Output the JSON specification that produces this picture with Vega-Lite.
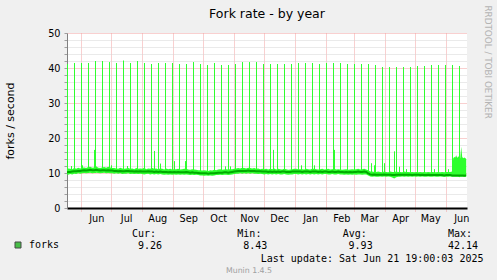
{
  "$schema": "https://vega.github.io/schema/vega-lite/v6.json",
  "width": 400,
  "height": 175,
  "autosize": {"type": "none"},
  "padding": {"left": 67, "top": 33, "right": 30, "bottom": 72},
  "background": "#F0F0F0",
  "config": {"view": {"stroke": null, "fill": "#FFFFFF"}, "font": "DejaVu Sans"},
  "title": {"text": "Fork rate - by year", "font": "DejaVu Sans", "fontSize": 12.5, "fontWeight": "normal", "color": "#000000", "anchor": "middle", "frame": "group", "baseline": "alphabetic", "offset": -25.5},
  "datasets": {
    "band": [
      {"d":"2024-05-17","l":9.6,"a":10.2,"h":11.0},{"d":"2024-05-19","l":9.5,"a":10.3,"h":11.3},{"d":"2024-05-21","l":9.7,"a":10.3,"h":11.2},{"d":"2024-05-23","l":9.6,"a":10.4,"h":11.1},{"d":"2024-05-25","l":9.8,"a":10.5,"h":11.4},{"d":"2024-05-27","l":9.7,"a":10.5,"h":11.2},{"d":"2024-05-29","l":9.9,"a":10.6,"h":11.5},{"d":"2024-05-31","l":9.8,"a":10.6,"h":11.3},
      {"d":"2024-06-02","l":9.9,"a":10.7,"h":11.5},{"d":"2024-06-04","l":10.0,"a":10.8,"h":11.6},{"d":"2024-06-06","l":9.9,"a":10.7,"h":11.4},{"d":"2024-06-08","l":10.0,"a":10.8,"h":11.7},{"d":"2024-06-10","l":10.1,"a":10.9,"h":11.8},{"d":"2024-06-12","l":9.9,"a":10.8,"h":11.5},{"d":"2024-06-14","l":10.0,"a":10.8,"h":11.6},{"d":"2024-06-16","l":10.1,"a":10.9,"h":11.9},{"d":"2024-06-18","l":10.0,"a":10.8,"h":11.5},{"d":"2024-06-20","l":9.9,"a":10.7,"h":11.4},{"d":"2024-06-22","l":10.0,"a":10.8,"h":11.6},{"d":"2024-06-24","l":10.1,"a":10.8,"h":11.7},{"d":"2024-06-26","l":9.9,"a":10.7,"h":11.5},{"d":"2024-06-28","l":10.0,"a":10.8,"h":11.8},{"d":"2024-06-30","l":9.9,"a":10.7,"h":11.6},
      {"d":"2024-07-02","l":9.9,"a":10.7,"h":11.4},{"d":"2024-07-04","l":9.8,"a":10.6,"h":11.4},{"d":"2024-07-06","l":9.9,"a":10.6,"h":11.3},{"d":"2024-07-08","l":9.8,"a":10.5,"h":11.2},{"d":"2024-07-10","l":9.9,"a":10.6,"h":11.5},{"d":"2024-07-12","l":9.7,"a":10.5,"h":11.3},{"d":"2024-07-14","l":9.8,"a":10.5,"h":11.2},{"d":"2024-07-16","l":9.8,"a":10.6,"h":11.3},{"d":"2024-07-18","l":9.9,"a":10.6,"h":11.4},{"d":"2024-07-20","l":9.7,"a":10.5,"h":11.2},{"d":"2024-07-22","l":9.8,"a":10.5,"h":11.3},{"d":"2024-07-24","l":9.7,"a":10.4,"h":11.1},{"d":"2024-07-26","l":9.8,"a":10.5,"h":11.4},{"d":"2024-07-28","l":9.7,"a":10.4,"h":11.2},{"d":"2024-07-30","l":9.8,"a":10.5,"h":11.3},
      {"d":"2024-08-01","l":9.7,"a":10.4,"h":11.2},{"d":"2024-08-03","l":9.6,"a":10.4,"h":11.5},{"d":"2024-08-05","l":9.7,"a":10.4,"h":11.1},{"d":"2024-08-07","l":9.8,"a":10.5,"h":11.3},{"d":"2024-08-09","l":9.6,"a":10.4,"h":11.2},{"d":"2024-08-11","l":9.7,"a":10.4,"h":11.4},{"d":"2024-08-13","l":9.6,"a":10.3,"h":11.2},{"d":"2024-08-15","l":9.7,"a":10.4,"h":11.3},{"d":"2024-08-17","l":9.6,"a":10.3,"h":11.1},{"d":"2024-08-19","l":9.7,"a":10.4,"h":11.3},{"d":"2024-08-21","l":9.6,"a":10.3,"h":11.2},{"d":"2024-08-23","l":9.5,"a":10.3,"h":11.0},{"d":"2024-08-25","l":9.6,"a":10.3,"h":11.3},{"d":"2024-08-27","l":9.5,"a":10.2,"h":11.1},{"d":"2024-08-29","l":9.6,"a":10.3,"h":11.2},{"d":"2024-08-31","l":9.5,"a":10.2,"h":11.0},
      {"d":"2024-09-02","l":9.6,"a":10.3,"h":11.1},{"d":"2024-09-04","l":9.5,"a":10.2,"h":11.1},{"d":"2024-09-06","l":9.6,"a":10.3,"h":11.2},{"d":"2024-09-08","l":9.5,"a":10.2,"h":11.0},{"d":"2024-09-10","l":9.6,"a":10.2,"h":11.1},{"d":"2024-09-12","l":9.5,"a":10.2,"h":11.2},{"d":"2024-09-14","l":9.6,"a":10.3,"h":11.2},{"d":"2024-09-16","l":9.5,"a":10.2,"h":11.0},{"d":"2024-09-18","l":9.4,"a":10.1,"h":10.9},{"d":"2024-09-20","l":9.5,"a":10.2,"h":11.1},{"d":"2024-09-22","l":9.4,"a":10.1,"h":11.0},{"d":"2024-09-24","l":9.5,"a":10.1,"h":10.9},{"d":"2024-09-26","l":9.4,"a":10.0,"h":10.8},{"d":"2024-09-28","l":9.3,"a":9.9,"h":10.8},{"d":"2024-09-30","l":9.3,"a":9.9,"h":10.7},
      {"d":"2024-10-02","l":9.2,"a":9.9,"h":10.8},{"d":"2024-10-04","l":9.3,"a":9.9,"h":10.7},{"d":"2024-10-06","l":9.2,"a":9.8,"h":10.6},{"d":"2024-10-08","l":9.3,"a":9.9,"h":10.8},{"d":"2024-10-10","l":9.2,"a":9.9,"h":10.7},{"d":"2024-10-12","l":9.3,"a":9.9,"h":10.9},{"d":"2024-10-14","l":9.4,"a":10.0,"h":10.8},{"d":"2024-10-16","l":9.4,"a":10.1,"h":11.0},{"d":"2024-10-18","l":9.5,"a":10.1,"h":11.1},{"d":"2024-10-20","l":9.4,"a":10.1,"h":10.9},{"d":"2024-10-22","l":9.5,"a":10.2,"h":11.0},{"d":"2024-10-24","l":9.5,"a":10.2,"h":11.1},{"d":"2024-10-26","l":9.4,"a":10.1,"h":11.0},{"d":"2024-10-28","l":9.5,"a":10.2,"h":11.1},{"d":"2024-10-30","l":9.6,"a":10.3,"h":11.1},
      {"d":"2024-11-01","l":9.7,"a":10.4,"h":11.2},{"d":"2024-11-03","l":9.8,"a":10.5,"h":11.3},{"d":"2024-11-05","l":9.8,"a":10.6,"h":11.4},{"d":"2024-11-07","l":9.9,"a":10.6,"h":11.3},{"d":"2024-11-09","l":9.8,"a":10.6,"h":11.5},{"d":"2024-11-11","l":9.9,"a":10.6,"h":11.4},{"d":"2024-11-13","l":9.8,"a":10.6,"h":11.3},{"d":"2024-11-15","l":9.9,"a":10.7,"h":11.5},{"d":"2024-11-17","l":9.8,"a":10.6,"h":11.4},{"d":"2024-11-19","l":9.9,"a":10.6,"h":11.3},{"d":"2024-11-21","l":9.8,"a":10.6,"h":11.4},{"d":"2024-11-23","l":9.8,"a":10.5,"h":11.2},{"d":"2024-11-25","l":9.7,"a":10.5,"h":11.3},{"d":"2024-11-27","l":9.8,"a":10.5,"h":11.1},{"d":"2024-11-29","l":9.7,"a":10.4,"h":11.2},
      {"d":"2024-12-01","l":9.6,"a":10.4,"h":11.1},{"d":"2024-12-03","l":9.7,"a":10.4,"h":11.2},{"d":"2024-12-05","l":9.6,"a":10.3,"h":11.0},{"d":"2024-12-07","l":9.7,"a":10.4,"h":11.2},{"d":"2024-12-09","l":9.6,"a":10.3,"h":11.1},{"d":"2024-12-11","l":9.7,"a":10.4,"h":11.3},{"d":"2024-12-13","l":9.6,"a":10.3,"h":11.0},{"d":"2024-12-15","l":9.7,"a":10.4,"h":11.2},{"d":"2024-12-17","l":9.6,"a":10.3,"h":11.1},{"d":"2024-12-19","l":9.6,"a":10.4,"h":11.0},{"d":"2024-12-21","l":9.7,"a":10.4,"h":11.2},{"d":"2024-12-23","l":9.6,"a":10.3,"h":11.1},{"d":"2024-12-25","l":9.5,"a":10.3,"h":10.9},{"d":"2024-12-27","l":9.6,"a":10.3,"h":11.0},{"d":"2024-12-29","l":9.6,"a":10.4,"h":11.1},{"d":"2024-12-31","l":9.7,"a":10.4,"h":11.2},
      {"d":"2025-01-02","l":9.7,"a":10.4,"h":11.2},{"d":"2025-01-04","l":9.6,"a":10.4,"h":11.1},{"d":"2025-01-06","l":9.7,"a":10.4,"h":11.1},{"d":"2025-01-08","l":9.6,"a":10.3,"h":11.1},{"d":"2025-01-10","l":9.7,"a":10.4,"h":11.0},{"d":"2025-01-12","l":9.6,"a":10.4,"h":11.2},{"d":"2025-01-14","l":9.7,"a":10.4,"h":11.1},{"d":"2025-01-16","l":9.6,"a":10.3,"h":11.0},{"d":"2025-01-18","l":9.7,"a":10.4,"h":11.2},{"d":"2025-01-20","l":9.6,"a":10.4,"h":11.2},{"d":"2025-01-22","l":9.7,"a":10.4,"h":11.1},{"d":"2025-01-24","l":9.6,"a":10.3,"h":11.0},{"d":"2025-01-26","l":9.7,"a":10.4,"h":11.1},{"d":"2025-01-28","l":9.6,"a":10.3,"h":11.2},{"d":"2025-01-30","l":9.7,"a":10.4,"h":11.0},
      {"d":"2025-02-01","l":9.7,"a":10.4,"h":11.1},{"d":"2025-02-03","l":9.6,"a":10.3,"h":11.2},{"d":"2025-02-05","l":9.6,"a":10.3,"h":11.0},{"d":"2025-02-07","l":9.7,"a":10.4,"h":11.1},{"d":"2025-02-09","l":9.6,"a":10.3,"h":11.2},{"d":"2025-02-11","l":9.6,"a":10.3,"h":11.0},{"d":"2025-02-13","l":9.7,"a":10.4,"h":11.1},{"d":"2025-02-15","l":9.6,"a":10.3,"h":11.0},{"d":"2025-02-17","l":9.6,"a":10.3,"h":10.9},{"d":"2025-02-19","l":9.5,"a":10.2,"h":11.0},{"d":"2025-02-21","l":9.6,"a":10.3,"h":11.1},{"d":"2025-02-23","l":9.5,"a":10.2,"h":10.9},{"d":"2025-02-25","l":9.6,"a":10.3,"h":11.0},{"d":"2025-02-27","l":9.5,"a":10.2,"h":11.1},
      {"d":"2025-03-01","l":9.6,"a":10.3,"h":11.0},{"d":"2025-03-03","l":9.5,"a":10.3,"h":11.1},{"d":"2025-03-05","l":9.6,"a":10.4,"h":11.2},{"d":"2025-03-07","l":9.6,"a":10.3,"h":11.0},{"d":"2025-03-09","l":9.5,"a":10.3,"h":11.1},{"d":"2025-03-11","l":9.6,"a":10.4,"h":11.2},{"d":"2025-03-13","l":9.6,"a":10.3,"h":11.0},{"d":"2025-03-15","l":9.3,"a":9.9,"h":10.8},{"d":"2025-03-17","l":9.0,"a":9.6,"h":10.4},{"d":"2025-03-19","l":8.9,"a":9.5,"h":10.4},{"d":"2025-03-21","l":9.0,"a":9.6,"h":10.3},{"d":"2025-03-23","l":8.9,"a":9.5,"h":10.3},{"d":"2025-03-25","l":8.9,"a":9.5,"h":10.4},{"d":"2025-03-27","l":9.0,"a":9.5,"h":10.3},{"d":"2025-03-29","l":8.9,"a":9.5,"h":10.2},{"d":"2025-03-31","l":9.0,"a":9.6,"h":10.4},
      {"d":"2025-04-02","l":8.9,"a":9.5,"h":10.3},{"d":"2025-04-04","l":9.0,"a":9.5,"h":10.2},{"d":"2025-04-06","l":8.9,"a":9.5,"h":10.4},{"d":"2025-04-08","l":8.7,"a":9.4,"h":10.3},{"d":"2025-04-10","l":8.43,"a":9.4,"h":10.3},{"d":"2025-04-12","l":8.8,"a":9.5,"h":10.4},{"d":"2025-04-14","l":8.9,"a":9.5,"h":10.3},{"d":"2025-04-16","l":8.9,"a":9.5,"h":10.3},{"d":"2025-04-18","l":9.0,"a":9.5,"h":10.2},{"d":"2025-04-20","l":8.9,"a":9.5,"h":10.4},{"d":"2025-04-22","l":9.0,"a":9.5,"h":10.3},{"d":"2025-04-24","l":8.9,"a":9.5,"h":10.3},{"d":"2025-04-26","l":9.0,"a":9.5,"h":10.2},{"d":"2025-04-28","l":8.9,"a":9.4,"h":10.3},{"d":"2025-04-30","l":9.0,"a":9.5,"h":10.2},
      {"d":"2025-05-02","l":8.9,"a":9.5,"h":10.3},{"d":"2025-05-04","l":9.0,"a":9.5,"h":10.2},{"d":"2025-05-06","l":8.9,"a":9.4,"h":10.3},{"d":"2025-05-08","l":9.0,"a":9.5,"h":10.2},{"d":"2025-05-10","l":8.9,"a":9.4,"h":10.3},{"d":"2025-05-12","l":8.9,"a":9.4,"h":10.2},{"d":"2025-05-14","l":9.0,"a":9.5,"h":10.3},{"d":"2025-05-16","l":8.9,"a":9.4,"h":10.2},{"d":"2025-05-18","l":8.9,"a":9.4,"h":10.3},{"d":"2025-05-20","l":9.0,"a":9.4,"h":10.2},{"d":"2025-05-22","l":8.9,"a":9.4,"h":10.2},{"d":"2025-05-24","l":8.9,"a":9.4,"h":10.3},{"d":"2025-05-26","l":9.0,"a":9.4,"h":10.2},{"d":"2025-05-28","l":8.9,"a":9.4,"h":10.3},{"d":"2025-05-30","l":8.9,"a":9.3,"h":10.2},
      {"d":"2025-06-01","l":8.9,"a":9.4,"h":10.3},{"d":"2025-06-03","l":8.9,"a":9.4,"h":10.3},{"d":"2025-06-05","l":9.0,"a":9.4,"h":10.3},{"d":"2025-06-07","l":8.9,"a":9.3,"h":10.4},{"d":"2025-06-08","l":8.9,"a":9.3,"h":14.2},{"d":"2025-06-09","l":8.9,"a":9.3,"h":14.6},{"d":"2025-06-10","l":8.9,"a":9.3,"h":14.4},{"d":"2025-06-11","l":8.9,"a":9.3,"h":15.1},{"d":"2025-06-12","l":8.9,"a":9.3,"h":14.3},{"d":"2025-06-13","l":8.9,"a":9.3,"h":14.8},{"d":"2025-06-14","l":8.8,"a":9.3,"h":14.5},{"d":"2025-06-15","l":8.9,"a":9.3,"h":14.2},{"d":"2025-06-16","l":8.9,"a":9.3,"h":17.5},{"d":"2025-06-17","l":8.9,"a":9.3,"h":14.6},{"d":"2025-06-18","l":8.9,"a":9.3,"h":14.2},{"d":"2025-06-19","l":8.9,"a":9.2,"h":14.4},{"d":"2025-06-20","l":8.9,"a":9.3,"h":14.3},{"d":"2025-06-21","l":8.9,"a":9.26,"h":14.0}
    ],
    "spikes": [
      {"d":"2024-05-18T07:00","v":41.14},{"d":"2024-05-25T07:00","v":41.43},{"d":"2024-06-01T07:00","v":41.43},{"d":"2024-06-08T07:00","v":41.43},{"d":"2024-06-15T07:00","v":42.0},{"d":"2024-06-22T07:00","v":42.0},{"d":"2024-06-29T07:00","v":41.7},{"d":"2024-07-06T07:00","v":41.43},{"d":"2024-07-13T07:00","v":42.14},{"d":"2024-07-20T07:00","v":41.43},{"d":"2024-07-27T07:00","v":42.0},{"d":"2024-08-03T07:00","v":41.43},{"d":"2024-08-10T07:00","v":41.14},{"d":"2024-08-17T07:00","v":41.43},{"d":"2024-08-24T07:00","v":41.43},{"d":"2024-08-31T07:00","v":41.43},{"d":"2024-09-07T07:00","v":41.14},{"d":"2024-09-14T07:00","v":41.14},{"d":"2024-09-21T07:00","v":41.7},{"d":"2024-09-28T07:00","v":41.14},{"d":"2024-10-05T07:00","v":40.86},{"d":"2024-10-12T07:00","v":41.43},{"d":"2024-10-19T07:00","v":40.86},{"d":"2024-10-26T07:00","v":40.86},{"d":"2024-11-02T07:00","v":41.14},{"d":"2024-11-09T07:00","v":41.7},{"d":"2024-11-16T07:00","v":41.7},{"d":"2024-11-23T07:00","v":41.7},{"d":"2024-11-30T07:00","v":41.14},{"d":"2024-12-07T07:00","v":41.14},{"d":"2024-12-14T07:00","v":41.14},{"d":"2024-12-21T07:00","v":41.14},{"d":"2024-12-28T07:00","v":41.14},{"d":"2025-01-04T07:00","v":41.43},{"d":"2025-01-11T07:00","v":41.43},{"d":"2025-01-18T07:00","v":41.43},{"d":"2025-01-25T07:00","v":41.14},{"d":"2025-02-01T07:00","v":41.43},{"d":"2025-02-08T07:00","v":41.43},{"d":"2025-02-15T07:00","v":41.43},{"d":"2025-02-22T07:00","v":41.14},{"d":"2025-03-01T07:00","v":41.14},{"d":"2025-03-08T07:00","v":41.14},{"d":"2025-03-15T07:00","v":41.14},{"d":"2025-03-22T07:00","v":40.86},{"d":"2025-03-29T07:00","v":40.29},{"d":"2025-04-05T07:00","v":40.29},{"d":"2025-04-12T07:00","v":40.29},{"d":"2025-04-19T07:00","v":40.29},{"d":"2025-04-26T07:00","v":40.29},{"d":"2025-05-03T07:00","v":40.57},{"d":"2025-05-10T07:00","v":40.57},{"d":"2025-05-17T07:00","v":40.86},{"d":"2025-05-24T07:00","v":40.86},{"d":"2025-05-31T07:00","v":40.86},{"d":"2025-06-07T07:00","v":40.86},{"d":"2025-06-14T07:00","v":40.57},
      {"d":"2024-05-22T07:00","v":12.0},{"d":"2024-06-02T07:00","v":12.2},{"d":"2024-06-14T07:00","v":16.6},{"d":"2024-07-01T07:00","v":12.2},{"d":"2024-07-17T07:00","v":12.0},{"d":"2024-08-13T07:00","v":16.3},{"d":"2024-08-19T07:00","v":12.7},{"d":"2024-09-02T07:00","v":13.4},{"d":"2024-09-13T07:00","v":13.4},{"d":"2024-10-23T07:00","v":11.9},{"d":"2024-10-28T07:00","v":11.9},{"d":"2024-12-10T07:00","v":16.6},{"d":"2025-01-07T07:00","v":12.2},{"d":"2025-01-20T07:00","v":12.2},{"d":"2025-02-09T07:00","v":16.6},{"d":"2025-03-18T07:00","v":12.8},{"d":"2025-03-21T07:00","v":12.2},{"d":"2025-03-31T07:00","v":12.8},{"d":"2025-04-10T07:00","v":16.2},{"d":"2025-04-15T07:00","v":11.8},{"d":"2025-04-22T07:00","v":11.1},{"d":"2025-05-20T07:00","v":11.1},{"d":"2025-06-03T07:00","v":11.1}
    ],
    "stats": [
      {"stat":"Cur:","val":"9.26"},{"stat":"Min:","val":"8.43"},{"stat":"Avg:","val":"9.93"},{"stat":"Max:","val":"42.14"}
    ]
  },
  "layer": [
    {
      "layer": [
        {
          "data": {"name": "band"},
          "mark": {"type": "area", "color": "#2EFF2E", "clip": true, "interpolate": "linear"},
          "encoding": {
            "x": {"field": "d", "type": "temporal",
              "scale": {"domain": [{"year": 2024, "month": 5, "date": 17, "hours": 19}, {"year": 2025, "month": 6, "date": 21, "hours": 19}]},
              "axis": {
                "values": [{"year":2024,"month":6,"date":1},{"year":2024,"month":7,"date":1},{"year":2024,"month":8,"date":1},{"year":2024,"month":9,"date":1},{"year":2024,"month":10,"date":1},{"year":2024,"month":11,"date":1},{"year":2024,"month":12,"date":1},{"year":2025,"month":1,"date":1},{"year":2025,"month":2,"date":1},{"year":2025,"month":3,"date":1},{"year":2025,"month":4,"date":1},{"year":2025,"month":5,"date":1},{"year":2025,"month":6,"date":1}],
                "format": "%b", "labelOffset": 15, "labelFlush": false, "labelOverlap": false, "labelBound": false,
                "labelFont": "DejaVu Sans", "labelFontSize": 9.7, "labelColor": "#000000", "labelPadding": 2,
                "grid": true, "gridColor": "#F2A0A0", "gridDash": [1, 1], "gridWidth": 1,
                "ticks": true, "tickColor": "#F2A0A0", "tickDash": [1, 1], "tickSize": 3,
                "domain": true, "domainColor": "#000000", "domainWidth": 2,
                "title": "Last update: Sat Jun 21 19:00:03 2025", "titleFont": "DejaVu Sans Mono", "titleFontSize": 10, "titleFontWeight": "normal", "titleColor": "#000000",
                "titleX": 416, "titleY": 53, "titleAlign": "right", "titleBaseline": "alphabetic", "titleAnchor": null
              }
            },
            "y": {"field": "l", "type": "quantitative",
              "scale": {"domain": [0, 50], "nice": false, "zero": true},
              "axis": {
                "values": [0,2,4,6,8,10,12,14,16,18,20,22,24,26,28,30,32,34,36,38,40,42,44,46,48,50],
                "labelExpr": "datum.value % 10 === 0 ? datum.label : ''",
                "labelFont": "DejaVu Sans", "labelFontSize": 9.7, "labelColor": "#000000", "labelPadding": 4,
                "grid": true, "gridDash": [1, 1], "gridWidth": 1,
                "gridColor": {"condition": {"test": "datum.value % 10 === 0", "value": "#F2A0A0"}, "value": "#D4D4D4"},
                "ticks": true, "tickSize": 3, "tickColor": "#A0A0A0",
                "domain": true, "domainColor": "#808080", "domainWidth": 1,
                "title": "forks / second", "titleFont": "DejaVu Sans", "titleFontSize": 11, "titleFontWeight": "normal", "titleColor": "#000000",
                "titleX": -56.5, "titleY": 87.5, "titleAngle": -90, "titleAlign": "center", "titleBaseline": "middle", "titleAnchor": null
              }
            },
            "y2": {"field": "h"}
          }
        },
        {
          "data": {"name": "spikes"},
          "mark": {"type": "rule", "color": "#2EFF2E", "strokeWidth": 1, "clip": true},
          "encoding": {
            "x": {"field": "d", "type": "temporal",
              "axis": {"orient": "bottom", "labels": false, "ticks": false, "domain": false, "grid": false,
                "title": "Munin 1.4.5", "titleFont": "DejaVu Sans", "titleFontSize": 7.8, "titleFontWeight": "normal", "titleColor": "#A0A0A0",
                "titleX": 181.5, "titleY": 64, "titleAlign": "center", "titleBaseline": "alphabetic", "titleAnchor": null}
            },
            "y": {"field": "v", "type": "quantitative",
              "axis": {"orient": "right", "labels": false, "ticks": false, "domain": false, "grid": false,
                "title": "RRDTOOL / TOBI OETIKER", "titleFont": "DejaVu Sans", "titleFontSize": 8.8, "titleFontWeight": "normal", "titleColor": "#B4B4B4",
                "titleX": 20.5, "titleY": -28, "titleAngle": 90, "titleAlign": "left", "titleBaseline": "middle", "titleAnchor": null}
            },
            "y2": {"datum": 10}
          }
        },
        {
          "data": {"name": "band"},
          "mark": {"type": "line", "color": "#00AA00", "strokeWidth": 2, "clip": true},
          "encoding": {
            "x": {"field": "d", "type": "temporal", "axis": null},
            "y": {"field": "a", "type": "quantitative", "axis": null}
          }
        }
      ],
      "resolve": {"axis": {"x": "independent", "y": "independent"}}
    },
    {
      "data": {"name": "stats"},
      "encoding": {
        "x": {"field": "stat", "type": "nominal", "sort": null, "axis": null, "scale": {"type": "point", "range": [65, 381], "padding": 0}}
      },
      "layer": [
        {
          "mark": {"type": "text", "align": "left", "baseline": "alphabetic", "font": "DejaVu Sans Mono", "fontSize": 10, "color": "#000000", "dy": 116.5},
          "encoding": {"text": {"field": "stat"}}
        },
        {
          "mark": {"type": "text", "align": "right", "baseline": "alphabetic", "font": "DejaVu Sans Mono", "fontSize": 10, "color": "#000000", "dx": 30, "dy": 128.5},
          "encoding": {"text": {"field": "val"}}
        },
        {
          "transform": [{"filter": "false"}],
          "mark": {"type": "point", "shape": "square", "filled": true, "stroke": "#000000", "strokeWidth": 1},
          "encoding": {
            "color": {"datum": "forks", "scale": {"range": ["#00AA00"]},
              "legend": {"orient": "none", "legendX": -54, "legendY": 207, "title": null, "padding": 0, "offset": 0,
                "symbolType": "square", "symbolSize": 36, "symbolStrokeColor": "#000000", "symbolStrokeWidth": 1,
                "labelFont": "DejaVu Sans Mono", "labelFontSize": 10, "labelColor": "#000000", "labelOffset": 6}}
          }
        }
      ]
    }
  ],
  "resolve": {"scale": {"x": "independent"}}
}
